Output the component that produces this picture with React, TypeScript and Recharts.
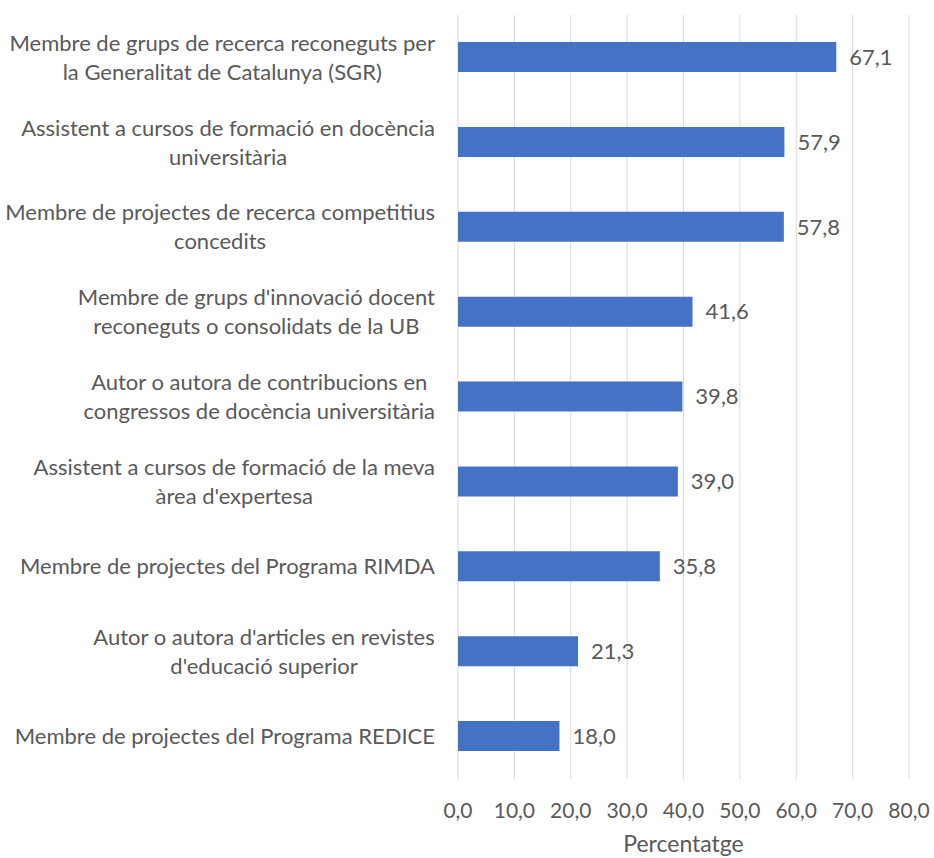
import React from 'react'
import { BarChart, Bar, XAxis, YAxis, CartesianGrid, LabelList } from 'recharts'

const CATEGORIES = [
  'Membre de grups de recerca reconeguts per\nla Generalitat de Catalunya (SGR)',
  'Assistent a cursos de formació en docència\nuniversitària',
  'Membre de projectes de recerca competitius\nconcedits',
  "Membre de grups d'innovació docent\nreconeguts o consolidats de la UB",
  'Autor o autora de contribucions en\ncongressos de docència universitària',
  "Assistent a cursos de formació de la meva\nàrea d'expertesa",
  'Membre de projectes del Programa RIMDA',
  "Autor o autora d'articles en revistes\nd'educació superior",
  'Membre de projectes del Programa REDICE',
]

const VALUES = [67.1, 57.9, 57.8, 41.6, 39.8, 39.0, 35.8, 21.3, 18.0]

const X_TICKS = [0, 10, 20, 30, 40, 50, 60, 70, 80]

const data = CATEGORIES.map((name, i) => ({ name, value: VALUES[i] }))

const FONT = 'Lato, "Open Sans", sans-serif'
const FONT_SIZE = 22
const TEXT = '#595959'

const fmt = (v: number) => v.toFixed(1).replace('.', ',')

let ctx: CanvasRenderingContext2D | null = null
function measure(s: string) {
  if (!ctx) ctx = document.createElement('canvas').getContext('2d')
  if (!ctx) return s.length * FONT_SIZE * 0.5
  ctx.font = `${FONT_SIZE}px Lato`
  return ctx.measureText(s).width
}

function CategoryTick(props: any) {
  const { x, y, payload } = props
  const lines: string[] = String(payload.value).split('\n')
  const w = Math.max(...lines.map(measure))
  const cx = x - 23 - w / 2
  const lh = 29
  const y0 = y - ((lines.length - 1) * lh) / 2
  return (
    <text textAnchor="middle" fill={TEXT} fontSize={FONT_SIZE} fontFamily={FONT}>
      {lines.map((l, i) => (
        <tspan key={i} x={cx} y={y0 + i * lh} dy="0.35em">
          {l}
        </tspan>
      ))}
    </text>
  )
}

export default function App() {
  return (
    <div style={{ width: 934, height: 858, background: '#fff' }}>
      <style>{'body{margin:0}'}</style>
      <BarChart
        width={934}
        height={858}
        data={data}
        layout="vertical"
        margin={{ top: 15, right: 25, left: 0, bottom: 0 }}
      >
        <CartesianGrid horizontal={false} stroke="#d9d9d9" />
        <XAxis
          type="number"
          domain={[0, 80]}
          ticks={X_TICKS}
          tickFormatter={fmt}
          axisLine={false}
          tickLine={false}
          height={79}
          tickMargin={18}
          tick={{ fill: TEXT, fontSize: 21, fontFamily: FONT }}
          label={{
            value: 'Percentatge',
            position: 'insideBottom',
            offset: 6,
            fill: TEXT,
            fontSize: 23,
            fontFamily: FONT,
          }}
        />
        <YAxis
          type="category"
          dataKey="name"
          width={458}
          axisLine={false}
          tickLine={false}
          tickSize={0}
          tickMargin={0}
          interval={0}
          tick={<CategoryTick />}
        />
        <Bar dataKey="value" fill="#4472C4" barSize={30} isAnimationActive={false}>
          <LabelList
            dataKey="value"
            position="right"
            offset={13}
            formatter={(v: any) => fmt(Number(v))}
            fill={TEXT}
            fontSize={FONT_SIZE}
            fontFamily={FONT}
          />
        </Bar>
      </BarChart>
    </div>
  )
}
